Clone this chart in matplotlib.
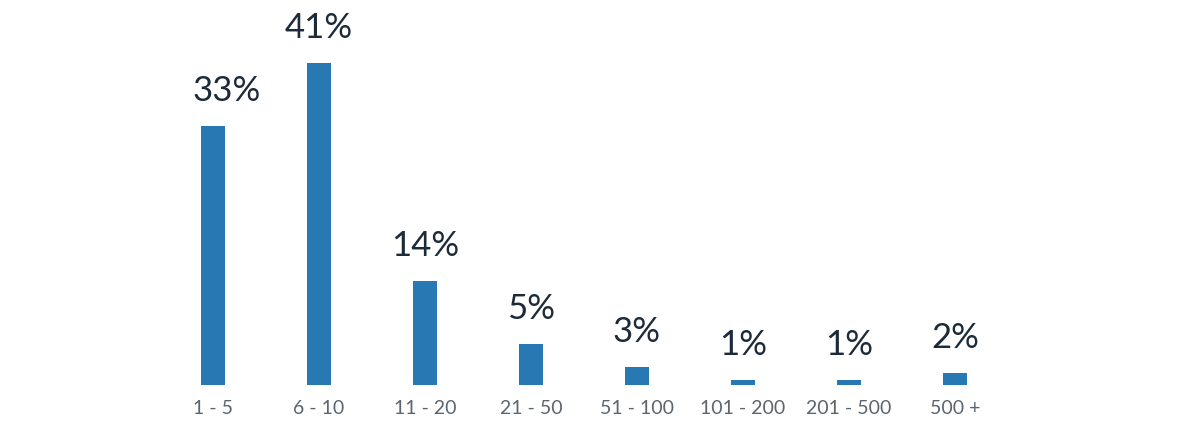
import matplotlib.pyplot as plt

categories = ['1 - 5', '6 - 10', '11 - 20', '21 - 50', '51 - 100', '101 - 200', '201 - 500', '500 +']
heights = [33.0, 41.0, 13.25, 5.2, 2.3, 0.65, 0.65, 1.57]
labels = ['33%', '41%', '14%', '5%', '3%', '1%', '1%', '2%']

plt.rcParams['font.family'] = ['Lato', 'DejaVu Sans']

fig = plt.figure(figsize=(12, 4.33), dpi=100)
ax = fig.add_axes([160 / 1200, 48 / 433, 848 / 1200, 45 * 7.85 / 433])

x = range(len(categories))
ax.bar(x, heights, width=0.227, color='#2878b4')

for i, (h, lab) in enumerate(zip(heights, labels)):
    dx = 9.5 if i == 0 else 0  # first label sits a bit right of its bar in the original
    ax.annotate(lab, (i, h), xytext=(dx, 18), textcoords='offset points',
                ha='center', va='baseline', fontsize=25, color='#1c2a3a')

ax.set_xlim(-0.5, len(categories) - 0.5)
ax.set_ylim(0, 45)
ax.set_xticks(list(x))
ax.set_xticklabels(categories, fontsize=14, color='#5b6570')
ax.tick_params(axis='x', length=0, pad=11)
ax.set_yticks([])
for s in ax.spines.values():
    s.set_visible(False)

fig.savefig('out.png', dpi=100)
